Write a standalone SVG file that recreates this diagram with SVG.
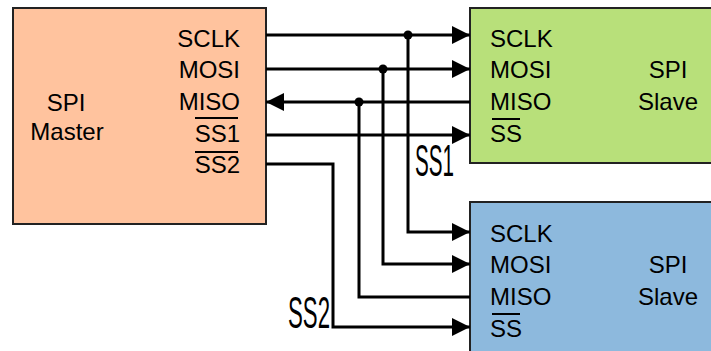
<svg xmlns="http://www.w3.org/2000/svg" width="711" height="351" viewBox="0 0 711 351">
<style>
.box{stroke:#222;stroke-width:2}
.t{font-family:"Liberation Sans",Arial,sans-serif;font-size:24px;fill:#000}
.e{text-anchor:end}
.m{text-anchor:middle}
.w{stroke:#000;stroke-width:3;fill:none}
.ov{stroke:#000;stroke-width:2}
.big{font-family:"Liberation Sans",Arial,sans-serif;font-size:44px;fill:#000}
</style>
<defs>
<marker id="ah" viewBox="0 0 18 18" refX="18" refY="9" markerWidth="18" markerHeight="18" markerUnits="userSpaceOnUse" orient="auto">
<path d="M0,0 L18,9 L0,18 Z" fill="#000"/>
</marker>
</defs>
<rect width="711" height="351" fill="#fff"/>
<g id="master">
<rect class="box" x="13" y="8" width="253" height="216" fill="#FFC39E"/>
<text class="t m" x="66" y="111">SPI</text>
<text class="t m" x="67" y="140">Master</text>
<text class="t e" x="240" y="47">SCLK</text>
<text class="t e" x="240" y="78">MOSI</text>
<text class="t e" x="240" y="110">MISO</text>
<text class="t e" x="240" y="142">SS1</text>
<line class="ov" x1="195" y1="118" x2="238" y2="118"/>
<text class="t e" x="240" y="173">SS2</text>
<line class="ov" x1="195" y1="152" x2="238" y2="152"/>
</g>
<g id="slave1">
<rect class="box" x="470" y="8" width="250" height="155" fill="#B8E07A"/>
<text class="t" x="490" y="47">SCLK</text>
<text class="t" x="490" y="78">MOSI</text>
<text class="t" x="490" y="110">MISO</text>
<text class="t" x="490" y="142">SS</text>
<line class="ov" x1="492" y1="119" x2="520" y2="119"/>
<text class="t m" x="668" y="78">SPI</text>
<text class="t m" x="668" y="110">Slave</text>
</g>
<g id="slave2">
<rect class="box" x="470" y="202" width="250" height="160" fill="#8DB9DD"/>
<text class="t" x="490" y="242">SCLK</text>
<text class="t" x="490" y="273">MOSI</text>
<text class="t" x="490" y="305">MISO</text>
<text class="t" x="490" y="337">SS</text>
<line class="ov" x1="492" y1="314" x2="520" y2="314"/>
<text class="t m" x="668" y="273">SPI</text>
<text class="t m" x="668" y="305">Slave</text>
</g>
<g id="connectors">
<path class="w" d="M266,35 H470" marker-end="url(#ah)"/>
<path class="w" d="M266,69 H470" marker-end="url(#ah)"/>
<path class="w" d="M470,102 H266" marker-end="url(#ah)"/>
<path class="w" d="M266,135 H470" marker-end="url(#ah)"/>
<path class="w" d="M408,35 V232 H470" marker-end="url(#ah)"/>
<path class="w" d="M383,69 V264 H470" marker-end="url(#ah)"/>
<path class="w" d="M359,102 V297 H470"/>
<path class="w" d="M266,164 H333 V327 H470" marker-end="url(#ah)"/>
<circle cx="408" cy="35" r="4.5" fill="#000"/>
<circle cx="383" cy="69" r="4.5" fill="#000"/>
<circle cx="359" cy="102" r="4.5" fill="#000"/>
<text class="big" x="415" y="176" textLength="39" lengthAdjust="spacingAndGlyphs">SS1</text>
<text class="big" x="288" y="328" textLength="42" lengthAdjust="spacingAndGlyphs">SS2</text>
</g>
</svg>
